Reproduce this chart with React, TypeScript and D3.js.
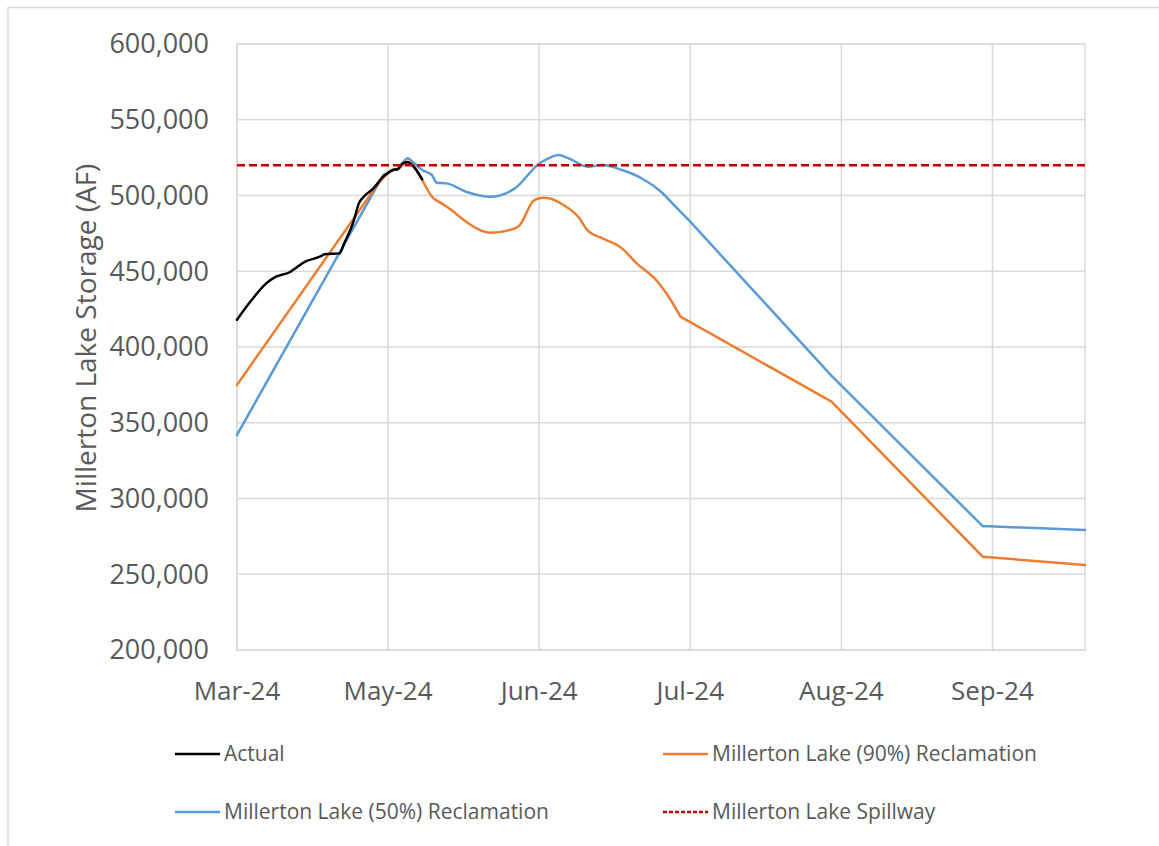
import React from "react";
import * as d3 from "d3";

const actualDates = ["2024-03-31","2024-04-03","2024-04-06","2024-04-08","2024-04-11","2024-04-12","2024-04-14","2024-04-17","2024-04-18","2024-04-21","2024-04-22","2024-04-24","2024-04-25","2024-04-26","2024-04-28","2024-04-30","2024-05-02","2024-05-03","2024-05-04","2024-05-05","2024-05-06","2024-05-08"];
const actualValues = [418000,431000,442000,446400,449700,452000,456300,459600,461200,461800,468400,483800,494800,499200,504700,512400,516800,517500,521200,521900,520000,510700];

const p90Dates = ["2024-03-31","2024-04-29","2024-05-02","2024-05-03","2024-05-04","2024-05-05","2024-05-06","2024-05-08","2024-05-10","2024-05-12","2024-05-14","2024-05-17","2024-05-22","2024-05-27","2024-05-28","2024-05-31","2024-06-02","2024-06-03","2024-06-06","2024-06-09","2024-06-11","2024-06-14","2024-06-18","2024-06-21","2024-06-25","2024-06-28","2024-06-30","2024-07-31","2024-08-31","2024-09-21"];
const p90Values = [375000,508000,516800,517500,520100,522300,520100,510200,499200,494800,490400,482700,475400,478300,480500,497000,498500,498200,493700,486000,476800,471700,465100,455200,444200,431000,420000,363900,261600,256100];

const p50Dates = ["2024-03-31","2024-04-30","2024-05-01","2024-05-02","2024-05-03","2024-05-04","2024-05-05","2024-05-06","2024-05-08","2024-05-10","2024-05-11","2024-05-13","2024-05-17","2024-05-22","2024-05-27","2024-06-01","2024-06-03","2024-06-05","2024-06-07","2024-06-11","2024-06-14","2024-06-18","2024-06-22","2024-06-26","2024-06-29","2024-07-02","2024-07-31","2024-08-31","2024-09-21"];
const p50Values = [342000,513500,515000,517300,517500,521500,524600,522300,516800,513500,508400,508000,502500,499200,504700,521000,524600,526700,524600,519000,520100,516800,511400,502500,492600,482700,381000,281800,279200];

const spillwayDates = ["2024-03-31","2024-09-21"];
const spillwayValues = [520000,520000];

const xTickDates = ["2024-03-31","2024-05-01","2024-06-01","2024-07-02","2024-08-02","2024-09-02"];
const xTickLabels = ["Mar-24","May-24","Jun-24","Jul-24","Aug-24","Sep-24"];
const yTicks = [200000,250000,300000,350000,400000,450000,500000,550000,600000];

const legendLabels = ["Actual","Millerton Lake (90%) Reclamation","Millerton Lake (50%) Reclamation","Millerton Lake Spillway"];

const parse = d3.utcParse("%Y-%m-%d");
const FONT = "'Open Sans', 'Noto Sans', sans-serif";
const TEXT = "#595959";
const GRID = "#d9d9d9";
const DAY = 86400000;

export default function App() {
  const left = 237, right = 1085, top = 44, bottom = 650;
  const x = d3.scaleUtc().domain([parse("2024-03-31")!, parse("2024-09-21")!]).range([left, right]);
  const y = d3.scaleLinear().domain([200000, 600000]).range([bottom, top]);
  const fmt = d3.format(",");
  const line = d3.line<[Date, number]>().x(d => x(d[0])).y(d => y(d[1])).curve(d3.curveMonotoneX);
  const mk = (ds: string[], vs: number[]) => ds.map((s, i) => [parse(s)!, vs[i]] as [Date, number]);

  // smooth dense runs, straight long stretches
  const pathFor = (data: [Date, number][]) => {
    const runs: [Date, number][][] = [];
    let cur: [Date, number][] = [data[0]];
    for (let i = 1; i < data.length; i++) {
      const gap = (data[i][0].getTime() - data[i - 1][0].getTime()) / DAY;
      if (gap > 10) {
        if (cur.length > 1) runs.push(cur);
        runs.push([data[i - 1], data[i]]);
        cur = [data[i]];
      } else {
        cur.push(data[i]);
      }
    }
    if (cur.length > 1) runs.push(cur);
    return runs.map(r => line(r) || "").join("");
  };

  const series = [
    { label: legendLabels[0], data: mk(actualDates, actualValues), color: "#000000", dash: undefined as string | undefined },
    { label: legendLabels[1], data: mk(p90Dates, p90Values), color: "#ED7D31", dash: undefined },
    { label: legendLabels[2], data: mk(p50Dates, p50Values), color: "#5B9BD5", dash: undefined },
    { label: legendLabels[3], data: mk(spillwayDates, spillwayValues), color: "#C00000", dash: "8,4" },
  ];
  const drawOrder = [2, 1, 0, 3];
  const legendPos = [
    { x: 175, y: 754 },
    { x: 663, y: 754 },
    { x: 175, y: 812 },
    { x: 663, y: 812 },
  ];

  return (
    <svg width={1159} height={846} style={{ position: "absolute", left: 0, top: 0, background: "#fff" }}>
      <rect x={8} y={7.5} width={1200} height={900} fill="#fff" stroke={GRID} strokeWidth={1.5} />
      {yTicks.map(t => (
        <line key={"gy" + t} x1={left} x2={right} y1={y(t)} y2={y(t)} stroke={GRID} strokeWidth={1.5} />
      ))}
      {xTickDates.map(s => (
        <line key={"gx" + s} x1={x(parse(s)!)} x2={x(parse(s)!)} y1={top} y2={bottom} stroke={GRID} strokeWidth={1.5} />
      ))}
      <rect x={left} y={top} width={right - left} height={bottom - top} fill="none" stroke={GRID} strokeWidth={1.5} />
      {yTicks.map(t => (
        <text key={"ty" + t} x={209} y={y(t)} dy="0.35em" textAnchor="end" fontFamily={FONT} fontSize={27} fill={TEXT}>{fmt(t)}</text>
      ))}
      {xTickDates.map((s, i) => (
        <text key={"tx" + s} x={x(parse(s)!)} y={700} textAnchor="middle" fontFamily={FONT} fontSize={26} fill={TEXT}>{xTickLabels[i]}</text>
      ))}
      <text transform={`translate(96,338) rotate(-90)`} textAnchor="middle" fontFamily={FONT} fontSize={28} fill={TEXT}>Millerton Lake Storage (AF)</text>
      {drawOrder.map(i => {
        const s = series[i];
        return <path key={"s" + i} d={pathFor(s.data)} fill="none" stroke={s.color} strokeWidth={2.5} strokeDasharray={s.dash} strokeLinejoin="round" strokeLinecap={s.dash ? "butt" : "round"} />;
      })}
      {series.map((s, i) => (
        <g key={"lg" + i}>
          <line x1={legendPos[i].x} x2={legendPos[i].x + 45} y1={legendPos[i].y} y2={legendPos[i].y} stroke={s.color} strokeWidth={2.5} strokeDasharray={s.dash ? "4,2" : undefined} />
          <text x={legendPos[i].x + 49} y={legendPos[i].y} dy="0.35em" fontFamily={FONT} fontSize={21} fill={TEXT}>{s.label}</text>
        </g>
      ))}
    </svg>
  );
}
